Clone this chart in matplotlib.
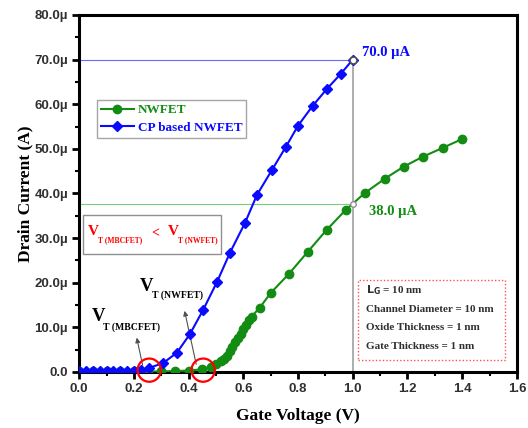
import numpy as np
import matplotlib
matplotlib.use('Agg')
import matplotlib.pyplot as plt
from matplotlib.patches import Ellipse, Rectangle
from matplotlib.ticker import MultipleLocator, FuncFormatter

# Drain current (µA) vs gate voltage (V)
v_nw = [0.0, 0.05, 0.10, 0.15, 0.20, 0.25, 0.30, 0.35, 0.40, 0.45, 0.48, 0.50,
        0.52, 0.53, 0.54, 0.55, 0.56, 0.57, 0.58, 0.59, 0.60, 0.61, 0.62, 0.63,
        0.66, 0.70, 0.767, 0.835, 0.904, 0.974, 1.044, 1.117, 1.186, 1.255,
        1.328, 1.40]
i_nw = [0.1, 0.1, 0.1, 0.1, 0.1, 0.1, 0.1, 0.2, 0.3, 0.6, 1.2, 1.8,
        2.4, 3.0, 3.6, 4.6, 5.6, 6.6, 7.6, 8.6, 9.6, 10.6, 11.6, 12.4,
        14.4, 17.7, 22.0, 26.9, 31.8, 36.3, 40.1, 43.3, 46.0, 48.2,
        50.2, 52.2]

v_cp = [0.0, 0.025, 0.05, 0.075, 0.10, 0.125, 0.15, 0.175, 0.20, 0.225,
        0.256, 0.307, 0.357, 0.405, 0.453, 0.504, 0.551, 0.606, 0.65, 0.705,
        0.755, 0.80, 0.853, 0.905, 0.956, 1.0]
i_cp = [0.3, 0.3, 0.3, 0.3, 0.3, 0.3, 0.3, 0.3, 0.3, 0.4,
        0.9, 2.0, 4.3, 8.5, 13.9, 20.2, 26.7, 33.4, 39.7, 45.3,
        50.4, 55.2, 59.6, 63.4, 66.8, 70.0]

v_mark = 1.0
i_mark_cp = 70.0
i_mark_nw = 37.6

vt_mb = 0.256
vt_nw = 0.453

params = ["$\\mathbf{L_G}$ = 10 nm", "Channel Diameter = 10 nm",
          "Oxide Thickness = 1 nm", "Gate Thickness = 1 nm"]

green = '#128c12'
blue = '#0a0aff'
serif = 'Liberation Serif'

fig = plt.figure(figsize=(5.28, 4.28), dpi=100)
ax = fig.add_axes([0.150, 0.131, 0.829, 0.834])

# guide lines
ax.plot([0, v_mark], [i_mark_cp, i_mark_cp], color='#6a6aff', lw=0.8, zorder=1)
ax.plot([0, v_mark], [i_mark_nw, i_mark_nw], color='#7acc7a', lw=0.8, zorder=1)
ax.plot([v_mark, v_mark], [0, i_mark_cp], color='#a0a0a0', lw=1.2, zorder=1)

ax.plot(v_nw, i_nw, color=green, lw=1.5, marker='o', ms=6, label='NWFET', zorder=3)
ax.plot(v_cp, i_cp, color=blue, lw=1.5, marker='D', ms=5.5, label='CP based NWFET', zorder=4)

ax.plot([v_mark], [i_mark_cp], 'o', ms=5, mfc='white', mec='#505050', mew=1.2, zorder=5)
ax.plot([v_mark], [i_mark_nw], 'o', ms=4, mfc='white', mec='#909090', mew=1.0, zorder=5)

ax.text(1.035, 71.5, '70.0 µA', color=blue, fontsize=10.5, fontweight='bold',
        family=serif, va='center')
ax.text(1.06, 36.0, '38.0 µA', color=green, fontsize=10.5, fontweight='bold',
        family=serif, va='center')

# threshold circles
for vc in [vt_mb, vt_nw]:
    ax.add_patch(Ellipse((vc, 0.4), 0.085, 5.2, fill=False, ec='red', lw=1.6,
                         zorder=6, clip_on=False))

# V_T labels and arrows
ax.annotate('', xy=(0.208, 8.3), xytext=(0.234, 0.9),
            arrowprops=dict(arrowstyle='-|>', color='#505050', lw=0.8, mutation_scale=7))
ax.annotate('', xy=(0.383, 14.3), xytext=(0.43, 1.1),
            arrowprops=dict(arrowstyle='-|>', color='#505050', lw=0.8, mutation_scale=7))
ax.text(0.045, 12.4, 'V', fontsize=13.5, family=serif, fontweight='bold', va='center')
ax.text(0.088, 10.1, 'T (MBCFET)', fontsize=7, family=serif, fontweight='bold', va='center')
ax.text(0.222, 19.1, 'V', fontsize=13.5, family=serif, fontweight='bold', va='center')
ax.text(0.266, 17.2, 'T (NWFET)', fontsize=7, family=serif, fontweight='bold', va='center')

# red comparison box
ax.add_patch(Rectangle((0.015, 26.5), 0.505, 8.7, fill=False, ec='#909090', lw=1.0, zorder=2))
ax.text(0.031, 31.4, 'V', color='red', fontsize=11, family=serif, fontweight='bold', va='center')
ax.text(0.069, 29.5, 'T (MBCFET)', color='red', fontsize=5.5, family=serif,
        fontweight='bold', va='center')
ax.text(0.262, 31.0, '<', color='red', fontsize=10, family=serif, fontweight='bold', va='center')
ax.text(0.323, 31.4, 'V', color='red', fontsize=11, family=serif, fontweight='bold', va='center')
ax.text(0.361, 29.5, 'T (NWFET)', color='red', fontsize=5.5, family=serif,
        fontweight='bold', va='center')

# parameter box
ax.add_patch(Rectangle((1.02, 2.7), 0.535, 18.0, fill=False, ec='#ff5050', lw=1.0,
                       ls=(0, (1, 1.5)), zorder=2))
for k, s in enumerate(params):
    ax.text(1.05, 18.3 - k * 4.2, s, fontsize=8, family=serif, fontweight='bold',
            va='center', color='#303030')

leg = ax.legend(loc='upper left', bbox_to_anchor=(0.04, 0.762), prop={'family': serif,
                'weight': 'bold', 'size': 9.5}, frameon=True, fancybox=False,
                handlelength=2.5, borderpad=0.3, labelspacing=0.4, handletextpad=0.3,
                borderaxespad=0)
leg.get_frame().set_edgecolor('#909090')
leg.get_frame().set_linewidth(1.0)
for txt, c in zip(leg.get_texts(), [green, blue]):
    txt.set_color(c)

ax.set_xlim(0, 1.6)
ax.set_ylim(0, 80)
ax.xaxis.set_major_locator(MultipleLocator(0.2))
ax.xaxis.set_minor_locator(MultipleLocator(0.1))
ax.yaxis.set_major_locator(MultipleLocator(10))
ax.yaxis.set_minor_locator(MultipleLocator(5))
ax.xaxis.set_major_formatter(FuncFormatter(lambda x, p: f'{x:.1f}'))
ax.yaxis.set_major_formatter(FuncFormatter(lambda y, p: '0.0' if abs(y) < 1e-9 else f'{y:.1f}µ'))

for s in ax.spines.values():
    s.set_linewidth(2.2)
ax.tick_params(which='major', direction='out', length=5, width=2, labelsize=9.5, pad=3)
ax.tick_params(which='minor', direction='out', length=3, width=1.5)
for lab in ax.get_xticklabels() + ax.get_yticklabels():
    lab.set_family('Liberation Sans')
    lab.set_fontweight('bold')
    lab.set_color('#303030')

ax.set_xlabel('Gate Voltage (V)', family=serif, fontweight='bold', fontsize=12.5)
ax.set_ylabel('Drain Current (A)', family=serif, fontweight='bold', fontsize=12.5)
ax.xaxis.set_label_coords(0.5, -0.1)
ax.yaxis.set_label_coords(-0.105, 0.5)

fig.savefig('out.png', dpi=100)
